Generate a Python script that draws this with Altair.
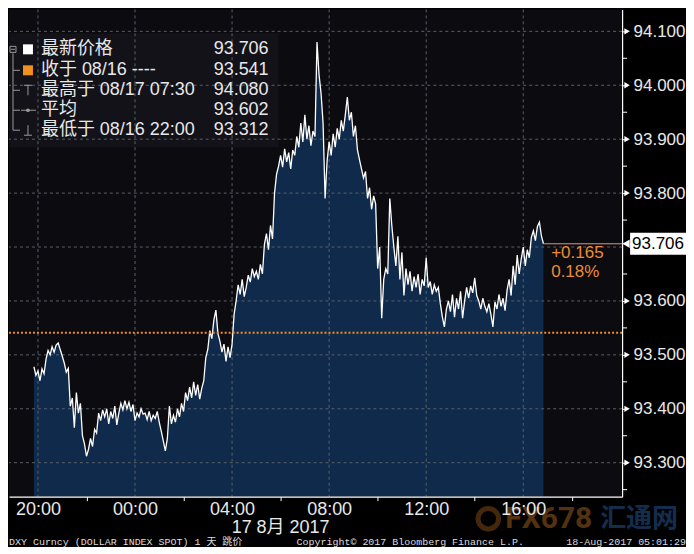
import altair as alt
import pandas as pd

# ---------------- data ----------------
PRICES = [
    93.478, 93.462, 93.470, 93.452, 93.474,
    93.465, 93.492, 93.508, 93.500, 93.515,
    93.505, 93.518, 93.522, 93.510, 93.498,
    93.485, 93.468, 93.475, 93.405, 93.420,
    93.365, 93.430, 93.392, 93.410, 93.350,
    93.335, 93.312, 93.325, 93.345, 93.330,
    93.362, 93.355, 93.392, 93.378, 93.398,
    93.385, 93.400, 93.372, 93.395, 93.382,
    93.405, 93.370, 93.392, 93.410, 93.398,
    93.415, 93.400, 93.412, 93.395, 93.408,
    93.378, 93.392, 93.385, 93.400, 93.390,
    93.392, 93.380, 93.395, 93.378, 93.388,
    93.382, 93.395, 93.375, 93.358, 93.340,
    93.322, 93.345, 93.405, 93.372, 93.388,
    93.375, 93.400, 93.385, 93.410, 93.395,
    93.430, 93.415, 93.440, 93.420, 93.450,
    93.425, 93.445, 93.418, 93.438, 93.452,
    93.495, 93.510, 93.545, 93.530, 93.565,
    93.583, 93.540, 93.525, 93.505, 93.520,
    93.488, 93.515, 93.495, 93.520, 93.575,
    93.600, 93.630, 93.612, 93.640, 93.608,
    93.625, 93.648, 93.635, 93.660, 93.645,
    93.655, 93.640, 93.668, 93.650, 93.705,
    93.725, 93.695, 93.740, 93.715, 93.800,
    93.835, 93.850, 93.870, 93.848, 93.882,
    93.858, 93.875, 93.845, 93.880, 93.870,
    93.905, 93.885, 93.930, 93.895, 93.945,
    93.900, 93.925, 93.888, 93.915, 93.905,
    94.080, 94.020, 93.985, 93.930, 93.790,
    93.860, 93.895, 93.870, 93.910, 93.885,
    93.920, 93.900, 93.935, 93.915, 93.945,
    93.978, 93.935, 93.950, 93.905, 93.925,
    93.880, 93.862, 93.845, 93.828, 93.840,
    93.790, 93.810, 93.770, 93.795, 93.780,
    93.660, 93.700, 93.568, 93.640, 93.660,
    93.650, 93.790, 93.740, 93.700, 93.665,
    93.720, 93.640, 93.690, 93.610, 93.660,
    93.630, 93.655, 93.618, 93.645, 93.625,
    93.650, 93.612, 93.640, 93.628, 93.680,
    93.625, 93.636, 93.612, 93.630, 93.618,
    93.625, 93.595, 93.570, 93.552, 93.585,
    93.600, 93.580, 93.612, 93.570, 93.605,
    93.585, 93.618, 93.568, 93.600, 93.625,
    93.605, 93.628, 93.615, 93.643, 93.610,
    93.600, 93.585, 93.605, 93.590, 93.580,
    93.595, 93.575, 93.552, 93.598, 93.585,
    93.612, 93.590, 93.605, 93.582, 93.620,
    93.640, 93.610, 93.665, 93.630, 93.685,
    93.650, 93.678, 93.700, 93.665, 93.695,
    93.680, 93.718, 93.730, 93.712, 93.738,
    93.746, 93.720, 93.706,
]
START_TIME = "2017-08-16 19:50"
STEP = "5min"

Y_LABELED = [93.3, 93.4, 93.5, 93.6, 93.8, 93.9, 94.0, 94.1]
Y_MINOR = [93.25, 93.35, 93.45, 93.55, 93.65, 93.75, 93.85, 93.95, 94.05]
H_GRID = [93.3, 93.4, 93.5, 93.6, 93.7, 93.8, 93.9, 94.0, 94.1]
V_GRID = ["2017-08-16T20:00:00", "2017-08-17T00:00:00", "2017-08-17T04:00:00",
          "2017-08-17T08:00:00", "2017-08-17T12:00:00", "2017-08-17T16:00:00"]
X_AXIS_TIMES = ["2017-08-16 20:00", "2017-08-16 22:00", "2017-08-17 00:00",
                "2017-08-17 02:00", "2017-08-17 04:00", "2017-08-17 06:00",
                "2017-08-17 08:00", "2017-08-17 10:00", "2017-08-17 12:00",
                "2017-08-17 14:00", "2017-08-17 16:00", "2017-08-17 18:00"]
X_DOMAIN = ["2017-08-16 18:48:24", "2017-08-17 20:04:24"]
Y_DOMAIN = [93.237, 94.1407]

PREV_CLOSE = 93.541
LAST_PRICE = 93.706
CHANGE_LABELS = ["+0.165", "0.18%"]
LAST_LABEL = ["93.706"]
LEGEND_LABELS = ["最新价格", "收于 08/16 ----", "最高于 08/17 07:30", "平均", "最低于 08/16 22:00"]
LEGEND_VALUES = ["93.706", "93.541", "94.080", "93.602", "93.312"]
DATE_LABEL = ["17 8月 2017"]
FOOTER_LEFT = ["DXY Curncy (DOLLAR INDEX SPOT) 1 天  跳价"]
FOOTER_MID = ["Copyright© 2017 Bloomberg Finance L.P."]
FOOTER_RIGHT = ["18-Aug-2017 05:01:29"]
WATERMARK = ["FX678", "汇通网"]

# ---------------- styles ----------------
W, H = 614, 488
AREA = "#0f2a4b"
GRID = "#5b6068"
ORANGE = "#ec8c34"
TXT = "#e8e8e8"
SANS = "Liberation Sans, Noto Sans CJK SC, sans-serif"
MONO = "Liberation Mono, Noto Sans CJK SC, monospace"


def dt(s):
    t = pd.Timestamp(s)
    return alt.DateTime(year=t.year, month=t.month, date=t.day,
                        hours=t.hour, minutes=t.minute, seconds=t.second)


df = pd.DataFrame({"time": pd.date_range(START_TIME, periods=len(PRICES), freq=STEP),
                   "price": PRICES})
df["time"] = df["time"].dt.strftime("%Y-%m-%dT%H:%M:%S")
last_time = df["time"].iloc[-1]

x_axis = alt.Axis(
    values=[dt(s) for s in X_AXIS_TIMES],
    labelExpr="hours(datum.value) % 4 == 0 ? timeFormat(datum.value, '%H:%M') : ''",
    grid=False, domainColor="#ffffff", domainWidth=1.2,
    tickColor={"condition": {"test": "hours(datum.value) % 4 == 0", "value": "transparent"},
               "value": "#ffffff"},
    tickSize=4, labelPadding=0, labelFontSize=18, labelFont=SANS, labelColor=TXT,
    labelOverlap=False, labelFlush=False, title=None, zindex=1,
)
y_axis = alt.Axis(
    orient="right", values=Y_LABELED, format=".3f",
    grid=False, domainColor="#ffffff", domainWidth=1.2, tickColor="#ffffff",
    tickSize=5, labelPadding=6, labelFontSize=17, labelFont=SANS, labelColor=TXT,
    labelOverlap=False, labelFlush=False, title=None, zindex=1,
)

X = alt.X("time:T", scale=alt.Scale(domain=[dt(s) for s in X_DOMAIN], nice=False), axis=x_axis)
Y = alt.Y("price:Q", scale=alt.Scale(domain=Y_DOMAIN, zero=False, nice=False), axis=y_axis)

area = alt.Chart(df).mark_area(color=AREA, clip=True).encode(
    x=X, y=Y, y2=alt.datum(Y_DOMAIN[0]))

one = pd.DataFrame({"k": [0]})

legend_box = alt.Chart(one).mark_rect(color="#121218").encode(
    x=alt.value(0), x2=alt.value(270), y=alt.value(24), y2=alt.value(138))

hgrid = alt.Chart(pd.DataFrame({"price": H_GRID})).mark_rule(
    color=GRID, strokeDash=[3, 3], strokeWidth=1).encode(y="price:Q")
vgrid = alt.Chart(pd.DataFrame({"time": V_GRID})).mark_rule(
    color=GRID, strokeDash=[3, 3], strokeWidth=1).encode(x="time:T")

line = alt.Chart(df).mark_line(color="#ffffff", strokeWidth=1.3, clip=True).encode(x="time:T", y="price:Q")

close_rule = alt.Chart(pd.DataFrame({"price": [PREV_CLOSE]})).mark_rule(
    color=ORANGE, strokeDash=[2, 2], strokeWidth=2).encode(y="price:Q")

last_rule = alt.Chart(pd.DataFrame({"time": [last_time], "price": [LAST_PRICE]})).mark_rule(
    color="#dc9a7e", strokeWidth=1).encode(x="time:T", x2=alt.value(W), y="price:Q")

minor_ticks = alt.Chart(pd.DataFrame({"price": Y_MINOR})).mark_rule(
    color="#ffffff", strokeWidth=1).encode(x=alt.value(W), x2=alt.value(W + 5), y="price:Q")

change_layers = []
for i, lab in enumerate(CHANGE_LABELS):
    change_layers.append(
        alt.Chart(pd.DataFrame({"label": [lab]})).mark_text(
            align="left", baseline="middle", color=ORANGE, fontSize=17, font=SANS).encode(
            x=alt.value(543), y=alt.value(244 + 19 * i), text="label:N"))

price_box = alt.Chart(one).mark_rect(color="#ffffff").encode(
    x=alt.value(622), x2=alt.value(678), y=alt.datum(LAST_PRICE + 0.0205), y2=alt.datum(LAST_PRICE - 0.0205))
price_arrow = alt.Chart(one).mark_point(shape="triangle-left", filled=True, size=70,
                                        color="#ffffff", opacity=1).encode(
    x=alt.value(618), y=alt.datum(LAST_PRICE))
price_text = alt.Chart(pd.DataFrame({"label": LAST_LABEL})).mark_text(
    align="left", baseline="middle", color="#000000", fontSize=17, font=SANS).encode(
    x=alt.value(624), y=alt.datum(LAST_PRICE), text="label:N")

y_arrows = alt.Chart(pd.DataFrame({"price": Y_LABELED})).mark_point(
    shape="triangle-right", filled=True, size=40, color="#ffffff", opacity=1).encode(
    x=alt.value(619), y="price:Q")

# legend
LEG_Y = [40, 61, 81, 101, 121]
legend_layers = []
for i in range(len(LEGEND_LABELS)):
    legend_layers.append(
        alt.Chart(pd.DataFrame({"label": [LEGEND_LABELS[i]]})).mark_text(
            align="left", baseline="middle", color=TXT, fontSize=18, font=SANS).encode(
            x=alt.value(32), y=alt.value(LEG_Y[i]), text="label:N"))
    legend_layers.append(
        alt.Chart(pd.DataFrame({"label": [LEGEND_VALUES[i]]})).mark_text(
            align="right", baseline="middle", color=TXT, fontSize=18, font=SANS).encode(
            x=alt.value(260), y=alt.value(LEG_Y[i]), text="label:N"))


def seg(x1, x2, y1, y2, color="#9a9a9a", w=1):
    return alt.Chart(one).mark_rule(color=color, strokeWidth=w).encode(
        x=alt.value(x1), x2=alt.value(x2), y=alt.value(y1), y2=alt.value(y2))


icons = [
    alt.Chart(one).mark_point(shape="square", filled=False, size=36, color="#9a9a9a",
                              strokeWidth=1, opacity=1).encode(x=alt.value(4), y=alt.value(40)),
    seg(2, 6, 40, 40),
    seg(4, 4, 44, 121),
    seg(4, 11, 61, 61), seg(4, 11, 81, 81), seg(4, 11, 101, 101), seg(4, 11, 121, 121),
    alt.Chart(one).mark_point(shape="square", filled=True, size=100, color="#ffffff",
                              opacity=1).encode(x=alt.value(19), y=alt.value(40)),
    alt.Chart(one).mark_point(shape="square", filled=True, size=100, color="#f0901e",
                              opacity=1).encode(x=alt.value(19), y=alt.value(61)),
    seg(15, 23, 76, 76), seg(19, 19, 76, 86),
    seg(12, 27, 101, 101),
    alt.Chart(one).mark_point(shape="circle", filled=True, size=14, color="#9a9a9a",
                              opacity=1).encode(x=alt.value(19), y=alt.value(101)),
    seg(19, 19, 116, 126), seg(15, 23, 126, 126),
]

date_label = alt.Chart(pd.DataFrame({"label": DATE_LABEL})).mark_text(
    align="center", baseline="middle", color=TXT, fontSize=18, font=SANS).encode(
    x=alt.value(272), y=alt.value(519), text="label:N")

footer = [
    alt.Chart(pd.DataFrame({"label": FOOTER_LEFT})).mark_text(
        align="left", baseline="middle", color="#dcdcdc", fontSize=10, font=MONO).encode(
        x=alt.value(0), y=alt.value(533), text="label:N"),
    alt.Chart(pd.DataFrame({"label": FOOTER_MID})).mark_text(
        align="left", baseline="middle", color="#dcdcdc", fontSize=10, font=MONO).encode(
        x=alt.value(288), y=alt.value(533), text="label:N"),
    alt.Chart(pd.DataFrame({"label": FOOTER_RIGHT})).mark_text(
        align="right", baseline="middle", color="#dcdcdc", fontSize=10, font=MONO).encode(
        x=alt.value(678), y=alt.value(533), text="label:N"),
]

watermark = [
    alt.Chart(one).mark_point(shape="circle", filled=False, size=420, color="#9a5a1c",
                              strokeWidth=5, opacity=0.45).encode(x=alt.value(480), y=alt.value(510)),
    alt.Chart(pd.DataFrame({"label": [WATERMARK[0]]})).mark_text(
        align="left", baseline="middle", color="#a8621e", fontSize=30, fontWeight="bold",
        font="Roboto", opacity=0.5).encode(x=alt.value(497), y=alt.value(510), text="label:N"),
    alt.Chart(pd.DataFrame({"label": [WATERMARK[1]]})).mark_text(
        align="left", baseline="middle", color="#2a5a9a", fontSize=26, fontWeight="bold",
        font="Noto Sans CJK SC", opacity=0.5).encode(x=alt.value(592), y=alt.value(510), text="label:N"),
]

chart = alt.layer(
    area, legend_box, hgrid, vgrid, line, close_rule, last_rule, minor_ticks, *change_layers,
    price_box, price_arrow, price_text, y_arrows, *legend_layers, *icons,
    date_label, *footer, *watermark,
).properties(
    width=W, height=H, padding=0, background="#000000",
).configure_view(fill="#0b0b10", strokeWidth=0)

chart.save("out.html", embed_options={"renderer": "svg", "actions": False})
